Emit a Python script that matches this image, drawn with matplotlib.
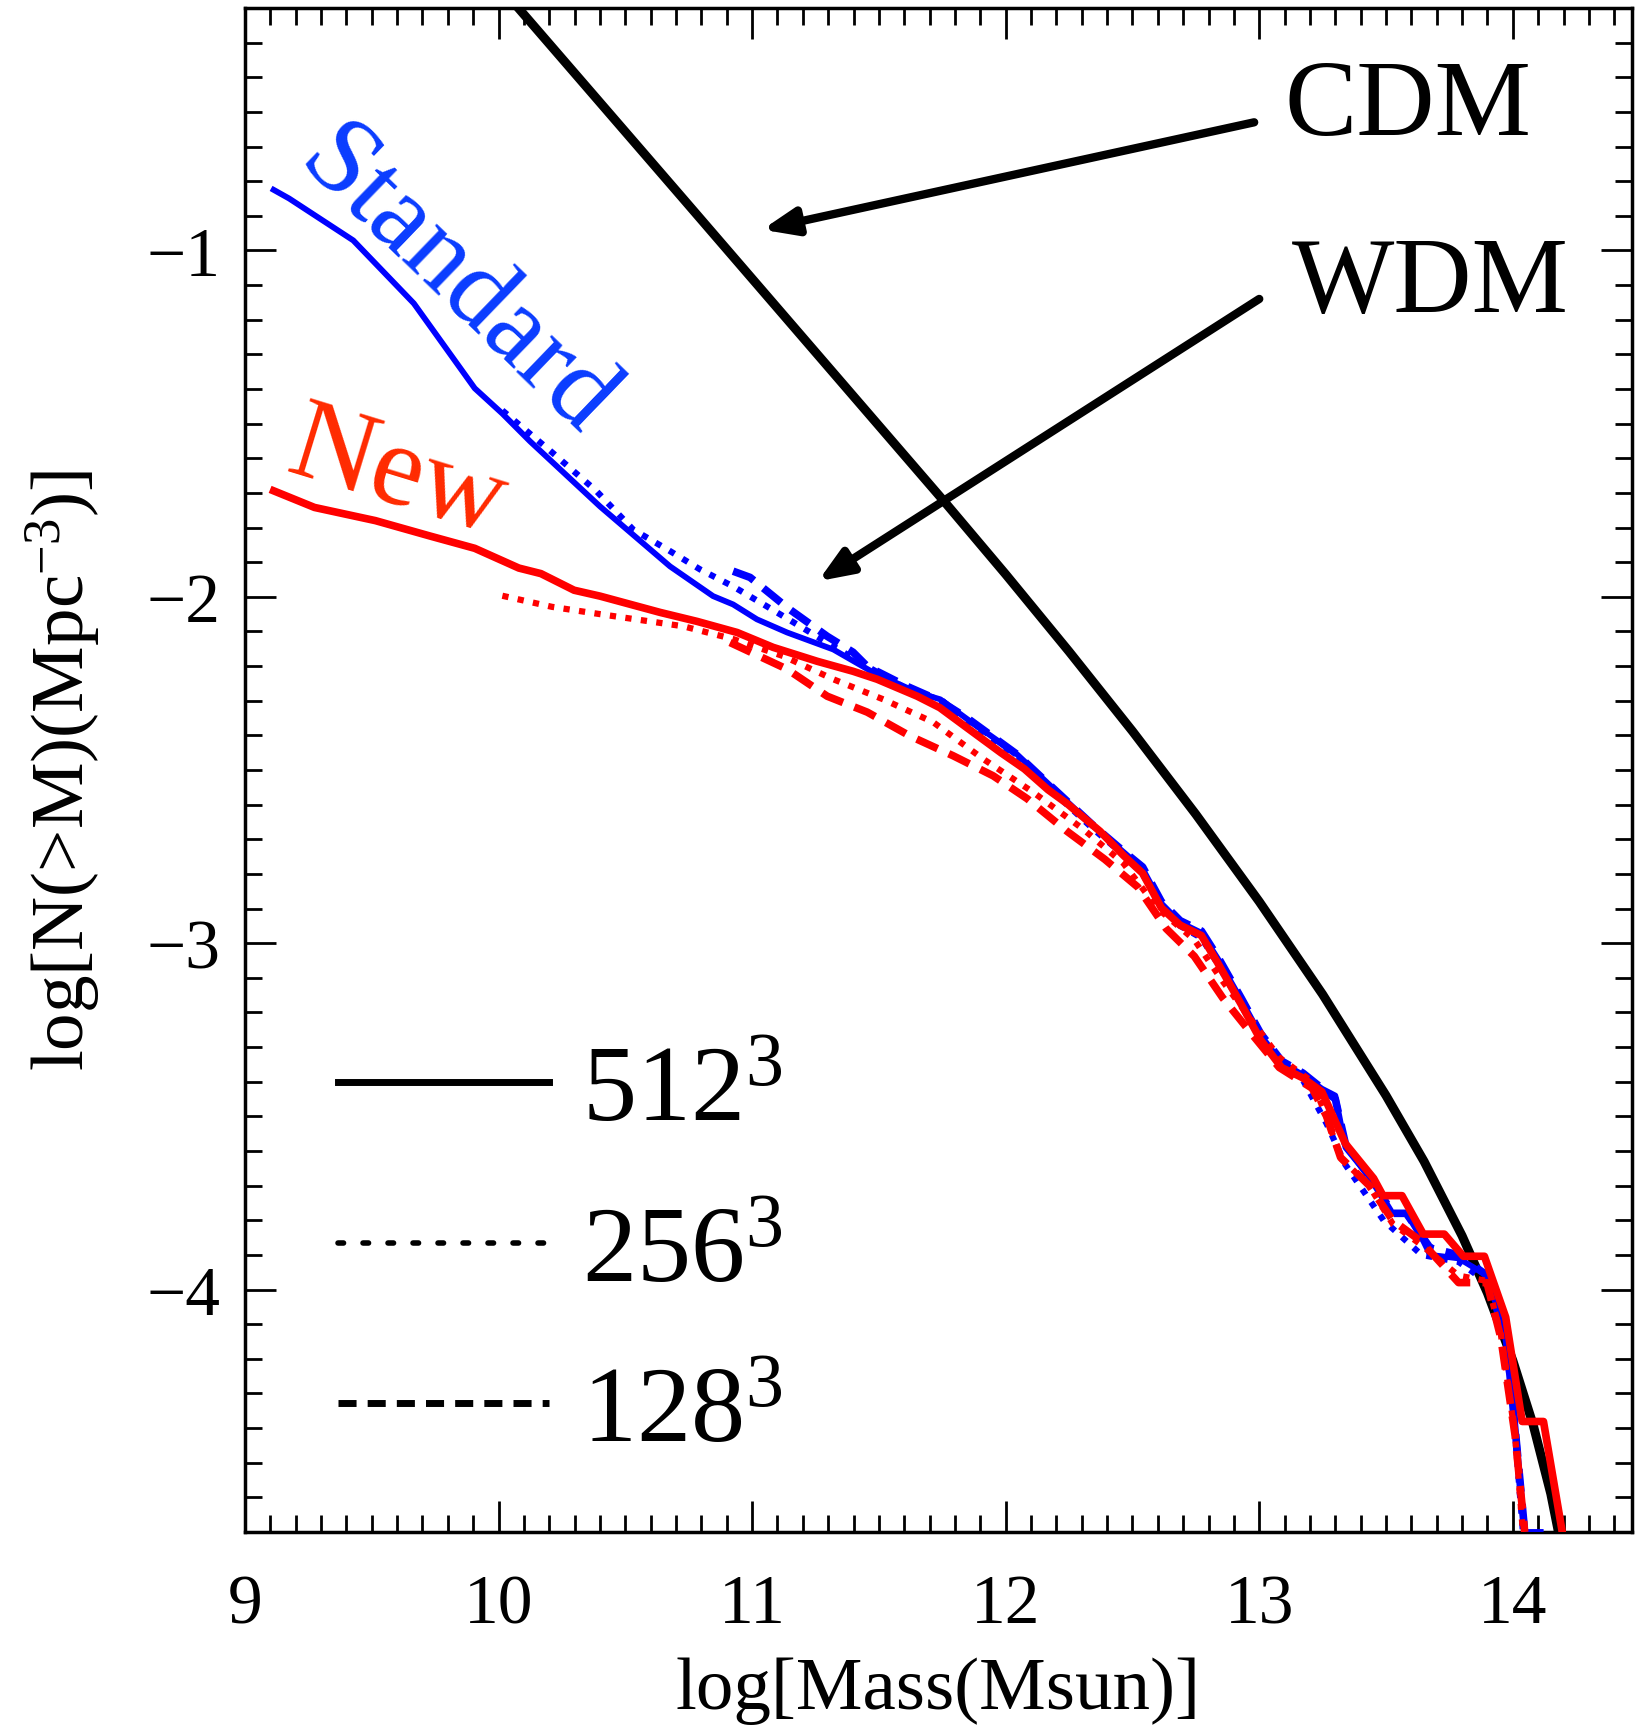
import numpy as np
import matplotlib
matplotlib.use('Agg')
import matplotlib.pyplot as plt
from matplotlib.lines import Line2D
from matplotlib.ticker import MultipleLocator


plt.rcParams['font.family'] = ['Liberation Serif', 'DejaVu Serif']
plt.rcParams['mathtext.fontset'] = 'custom'
plt.rcParams['mathtext.rm'] = 'Liberation Serif'
plt.rcParams['mathtext.it'] = 'Liberation Serif:italic'
plt.rcParams['mathtext.bf'] = 'Liberation Serif:bold'

# colours
my_blue = (0.0, 0.0, 1.0)
my_red = (1.0, 0.0, 0.0)
txt_blue = '#0a3cff'
txt_red = '#ff2a00'

# CDM analytic curve
cdm_x = [9.95, 10.085, 10.732, 11.758, 12.0, 12.25, 12.5, 12.75, 13.0, 13.25,
         13.5, 13.65, 13.8, 13.9, 14.0, 14.08, 14.15, 14.18, 14.21]
cdm_y = [-0.191, -0.306, -0.854, -1.725, -1.935, -2.158, -2.388, -2.628,
         -2.880, -3.148, -3.440, -3.630, -3.845, -4.010, -4.205, -4.390,
         -4.590, -4.700, -4.810]

# Standard (blue), 512^3
std512_x = [9.113, 9.174, 9.427, 9.666, 9.906, 10.015, 10.124, 10.400, 10.676,
            10.846, 10.925, 11.019, 11.138, 11.320, 11.477, 11.651, 11.742,
            11.848, 12.045, 12.176, 12.345, 12.465, 12.540, 12.614, 12.688,
            12.772, 12.837, 12.930, 13.005, 13.088, 13.172, 13.247, 13.300,
            13.340, 13.451, 13.526, 13.580, 13.647, 13.674, 13.786, 13.900,
            13.972, 14.009, 14.047, 14.110]
std512_y = [-0.825, -0.850, -0.971, -1.153, -1.398, -1.471, -1.551, -1.739,
            -1.912, -1.998, -2.022, -2.065, -2.103, -2.152, -2.218, -2.276,
            -2.296, -2.353, -2.455, -2.545, -2.662, -2.737, -2.785, -2.885,
            -2.940, -2.970, -3.045, -3.165, -3.265, -3.345, -3.380, -3.420,
            -3.440, -3.590, -3.690, -3.780, -3.780, -3.860, -3.900, -3.910,
            -3.960, -4.120, -4.381, -4.700, -4.700]

# Standard (blue), 256^3
std256_x = [10.015, 10.211, 10.385, 10.531, 10.665, 10.795, 10.925, 11.059,
            11.189, 11.320, 11.454, 11.600, 11.750, 11.850, 12.045, 12.176,
            12.345, 12.465, 12.540, 12.614, 12.688, 12.772, 12.837, 12.930,
            13.005, 13.088, 13.172, 13.265, 13.340, 13.490, 13.640, 13.786,
            13.900, 13.972, 14.009, 14.040]
std256_y = [-1.462, -1.583, -1.694, -1.806, -1.863, -1.921, -1.970, -2.028,
            -2.085, -2.143, -2.201, -2.262, -2.300, -2.360, -2.465, -2.555,
            -2.670, -2.745, -2.800, -2.895, -2.950, -2.985, -3.060, -3.180,
            -3.280, -3.360, -3.395, -3.520, -3.640, -3.800, -3.900, -3.920,
            -3.980, -4.140, -4.420, -4.700]

# Standard (blue), 128^3
std128_x = [10.925, 10.992, 11.083, 11.138, 11.241, 11.296, 11.398, 11.454,
            11.600, 11.740, 11.848, 12.045, 12.176, 12.345, 12.465, 12.540,
            12.614, 12.688, 12.772, 12.837, 12.930, 13.005, 13.088, 13.172,
            13.300, 13.340, 13.451, 13.526, 13.580, 13.674, 13.786, 13.900,
            13.972, 14.009, 14.047]
std128_y = [-1.926, -1.944, -1.998, -2.031, -2.085, -2.114, -2.160, -2.201,
            -2.255, -2.300, -2.350, -2.455, -2.545, -2.660, -2.735, -2.780,
            -2.880, -2.935, -2.965, -3.040, -3.160, -3.260, -3.340, -3.375,
            -3.450, -3.580, -3.690, -3.780, -3.780, -3.880, -3.900, -3.960,
            -4.120, -4.400, -4.700]

# New (red), 512^3
new512_x = [9.113, 9.274, 9.514, 9.732, 9.906, 10.080, 10.167, 10.298, 10.400,
            10.637, 10.783, 10.941, 11.083, 11.256, 11.398, 11.493, 11.651,
            11.740, 11.851, 11.981, 12.074, 12.167, 12.242, 12.372, 12.465,
            12.540, 12.614, 12.688, 12.772, 12.837, 12.930, 13.005, 13.088,
            13.172, 13.247, 13.340, 13.451, 13.488, 13.563, 13.647, 13.730,
            13.805, 13.888, 13.972, 14.037, 14.121, 14.195]
new512_y = [-1.694, -1.742, -1.780, -1.825, -1.860, -1.917, -1.933, -1.981,
            -1.998, -2.045, -2.071, -2.103, -2.146, -2.186, -2.215, -2.238,
            -2.287, -2.320, -2.380, -2.450, -2.497, -2.557, -2.597, -2.677,
            -2.747, -2.798, -2.898, -2.948, -2.978, -3.058, -3.178, -3.279,
            -3.359, -3.389, -3.429, -3.579, -3.679, -3.729, -3.729, -3.840,
            -3.840, -3.904, -3.904, -4.080, -4.381, -4.381, -4.700]

# New (red), 256^3
new256_x = [10.015, 10.211, 10.400, 10.728, 10.925, 11.122, 11.320, 11.517,
            11.714, 11.911, 12.108, 12.306, 12.465, 12.600, 12.744, 12.856,
            12.967, 13.079, 13.209, 13.265, 13.321, 13.433, 13.526, 13.637,
            13.786, 13.898, 13.953, 14.009, 14.040]
new256_y = [-1.997, -2.029, -2.050, -2.085, -2.122, -2.171, -2.238, -2.296,
            -2.362, -2.468, -2.564, -2.671, -2.770, -2.900, -2.990, -3.110,
            -3.220, -3.330, -3.400, -3.500, -3.620, -3.700, -3.810, -3.870,
            -3.960, -3.975, -4.130, -4.421, -4.700]

# New (red), 128^3
new128_x = [10.913, 11.138, 11.296, 11.454, 11.623, 11.793, 11.951, 12.085,
            12.242, 12.391, 12.521, 12.633, 12.744, 12.856, 12.967, 13.079,
            13.209, 13.265, 13.321, 13.433, 13.526, 13.637, 13.786, 13.898,
            13.953, 14.009, 14.047]
new128_y = [-2.132, -2.209, -2.287, -2.333, -2.402, -2.459, -2.517, -2.583,
            -2.677, -2.758, -2.838, -2.958, -3.038, -3.158, -3.259, -3.359,
            -3.419, -3.499, -3.619, -3.699, -3.800, -3.860, -3.980, -3.980,
            -4.140, -4.421, -4.700]

legend_labels = ['512$^3$', '256$^3$', '128$^3$']

dotted = (0, (1.0, 1.5))
dashed = (0, (3.0, 1.6))

fig = plt.figure(figsize=(16.41, 17.31), dpi=100)
ax = fig.add_axes([0.1493, 0.1144, 0.8452, 0.8804])

ax.plot(cdm_x, cdm_y, color='black', lw=6.5, zorder=2)

ax.plot(std512_x, std512_y, color=my_blue, lw=4.2, zorder=3)
ax.plot(std256_x, std256_y, color=my_blue, lw=4.5, ls=dotted, zorder=3)
ax.plot(std128_x, std128_y, color=my_blue, lw=5.5, ls=dashed, zorder=3)

ax.plot(new256_x, new256_y, color=my_red, lw=4.5, ls=dotted, zorder=4)
ax.plot(new128_x, new128_y, color=my_red, lw=5.5, ls=dashed, zorder=4)
ax.plot(new512_x, new512_y, color=my_red, lw=5.5, zorder=5)

ax.set_xlim(9.0, 14.47)
ax.set_ylim(-4.70, -0.30)

ax.xaxis.set_major_locator(MultipleLocator(1))
ax.xaxis.set_minor_locator(MultipleLocator(0.1))
ax.yaxis.set_major_locator(MultipleLocator(1))
ax.yaxis.set_minor_locator(MultipleLocator(0.1))
ax.tick_params(which='both', direction='in', top=True, right=True, width=2.0)
ax.tick_params(which='major', length=22, labelsize=50)
ax.tick_params(which='minor', length=12)
ax.tick_params(axis='x', which='major', pad=30)
ax.tick_params(axis='y', which='major', pad=18)
for sp in ax.spines.values():
    sp.set_linewidth(2.5)

ax.set_xlabel('log[Mass(Msun)]', fontsize=54, labelpad=14)
ax.set_ylabel('log[N(>M)(Mpc$^{-3}$)]', fontsize=54, labelpad=32)

# annotations
arrow_style = '-|>,head_length=2.0,head_width=0.8'
ax.annotate('', xy=(11.04, -0.94), xytext=(12.98, -0.63),
            arrowprops=dict(arrowstyle=arrow_style, color='black', lw=6,
                            shrinkA=0, shrinkB=0))
ax.annotate('', xy=(11.26, -1.955), xytext=(13.0, -1.14),
            arrowprops=dict(arrowstyle=arrow_style, color='black', lw=6,
                            shrinkA=0, shrinkB=0))
ax.text(13.10, -0.59, 'CDM', fontsize=78, ha='left', va='center')
ax.text(13.13, -1.10, 'WDM', fontsize=78, ha='left', va='center')

ax.text(9.83, -1.09, 'Standard', fontsize=80, color=txt_blue, rotation=-44,
        ha='center', va='center', rotation_mode='anchor')
ax.text(9.60, -1.65, 'New', fontsize=84, color=txt_red, rotation=-17,
        ha='center', va='center', rotation_mode='anchor')

handles = [Line2D([], [], color='black', lw=5, ls='-'),
           Line2D([], [], color='black', lw=4, ls=(0, (1, 3.5)),
                  dash_capstyle='round'),
           Line2D([], [], color='black', lw=5, ls=(0, (2.6, 1.6)))]
ax.legend(handles, legend_labels, loc='upper left', bbox_to_anchor=(0.067, 0.32),
          frameon=False, fontsize=78, handlelength=1.95, handletextpad=0.3,
          labelspacing=0.57, borderpad=0, borderaxespad=0)

fig.savefig('out.png', dpi=100)
plt.close()
